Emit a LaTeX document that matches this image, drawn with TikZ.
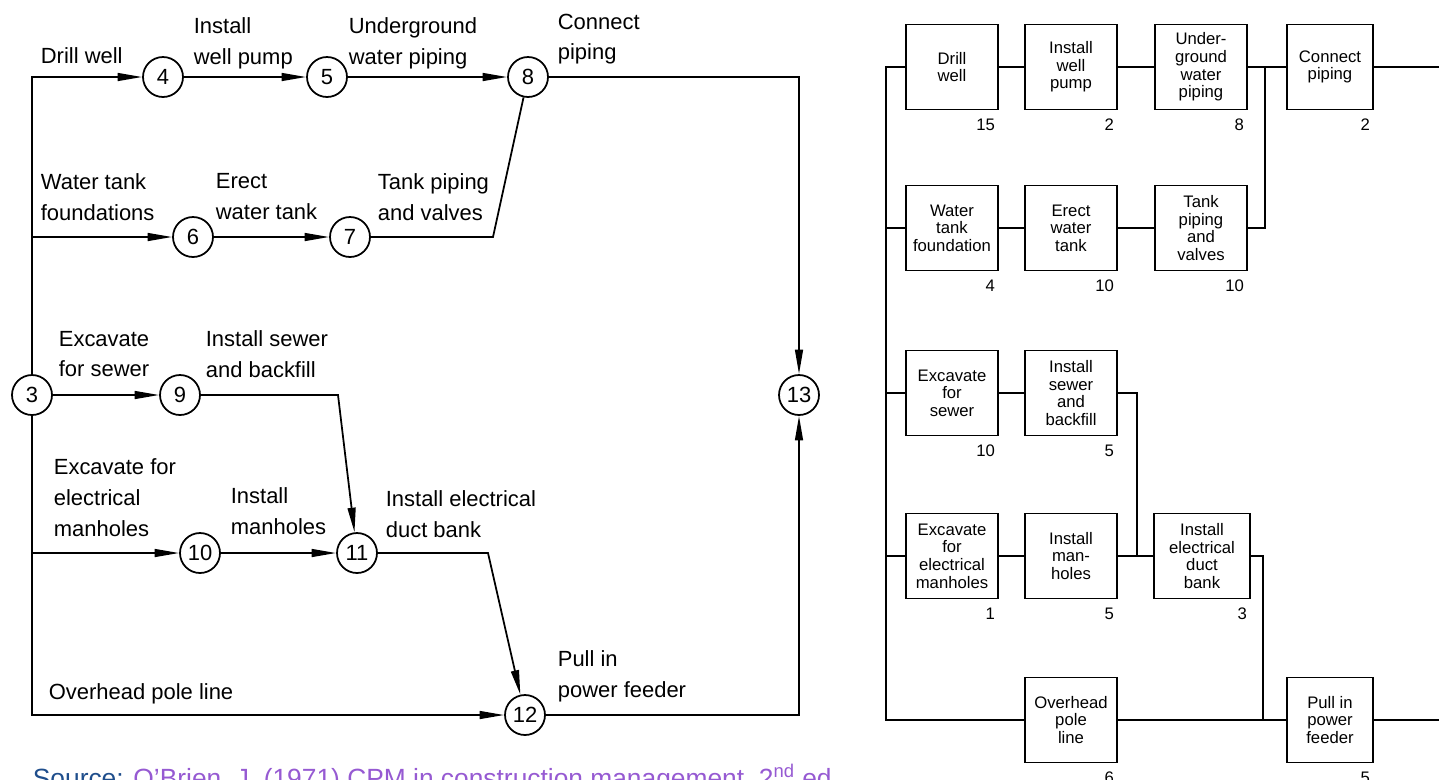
\documentclass[tikz,border=0pt]{standalone}
\usepackage{fontspec}
\setmainfont{Liberation Sans}
\usetikzlibrary{arrows.meta}
\definecolor{srcblue}{RGB}{31,78,140}
\definecolor{srcviolet}{RGB}{150,90,210}

\begin{document}
\begin{tikzpicture}[x=.02cm,y=-.02cm,line width=1pt,
  ev/.style={draw,circle,minimum size=.8cm,inner sep=0pt,font=\fontsize{12.5}{15}\selectfont},
  act/.style={anchor=north west,inner sep=0pt,align=left,font=\fontsize{12.5}{17.5}\selectfont},
  arr/.style={-{Triangle[length=14pt,width=4.5pt]}},
  box/.style={draw,minimum width=1.84cm,minimum height=1.7cm,inner sep=1pt,align=center,font=\fontsize{9.5}{10}\selectfont},
  dur/.style={anchor=north east,inner sep=0pt,xshift=-.06cm,yshift=-.16cm,font=\fontsize{9.5}{11}\selectfont}]
  \useasboundingbox (0,0) rectangle (1439,779);

  \node[ev] (e3) at (32,395) {3};
  \node[ev] (e4) at (163,77) {4};
  \node[ev] (e5) at (327,77) {5};
  \node[ev] (e8) at (528,77) {8};
  \node[ev] (e6) at (193,237) {6};
  \node[ev] (e7) at (350,237) {7};
  \node[ev] (e9) at (180,395) {9};
  \node[ev] (e10) at (200,553) {10};
  \node[ev] (e11) at (357,553) {11};
  \node[ev] (e12) at (525,715) {12};
  \node[ev] (e13) at (799,395) {13};
  \coordinate (k7) at (493,237);
  \coordinate (k9) at (338,395);
  \coordinate (k11) at (488,553);

  \draw[arr] (e3) |- (e4);
  \draw[arr] (e4) -- (e5);
  \draw[arr] (e5) -- (e8);
  \draw[arr] (e3) |- (e6);
  \draw[arr] (e6) -- (e7);
  \draw (e7) -- (k7) -- (e8);
  \draw[arr] (e3) -- (e9);
  \draw[arr] (e9) -- (k9) -- (e11);
  \draw[arr] (e3) |- (e10);
  \draw[arr] (e10) -- (e11);
  \draw[arr] (e11) -- (k11) -- (e12);
  \draw[arr] (e3) |- (e12);
  \draw[arr] (e8) -| (e13);
  \draw[arr] (e12) -| (e13);

  \node[act] (l4) at (40,47) {Drill well};
  \node[act] (l5) at (193,17) {Install\\well pump};
  \node[act] (l8) at (348,17) {Underground\\water piping};
  \node[act] (l13) at (557,13) {Connect\\piping};
  \node[act] (l6) at (40,173) {Water tank\\foundations};
  \node[act] (l7) at (215,173) {Erect\\water tank};
  \node[act] (l78) at (377,173) {Tank piping\\and valves};
  \node[act] (l9) at (58,330) {Excavate\\for sewer};
  \node[act] (l911) at (205,330) {Install sewer\\and backfill};
  \node[act] (l10) at (53,458) {Excavate for\\electrical\\manholes};
  \node[act] (l11) at (230,487) {Install\\manholes};
  \node[act] (l12) at (385,490) {Install electrical\\duct bank};
  \node[act] (l312) at (48,683) {Overhead pole line};
  \node[act] (l1213) at (557,650) {Pull in\\power feeder};

  \node[box] (b1) at (952,67) {Drill\\well};
  \node[box] (b2) at (1071,67) {Install\\well\\pump};
  \node[box] (b3) at (1201,67) {Under-\\ground\\water\\piping};
  \node[box,minimum width=1.72cm] (b4) at (1330,67) {Connect\\piping};
  \node[box] (b5) at (952,228) {Water\\tank\\foundation};
  \node[box] (b6) at (1071,228) {Erect\\water\\tank};
  \node[box] (b7) at (1201,228) {Tank\\piping\\and\\valves};
  \node[box] (b8) at (952,393) {Excavate\\for\\sewer};
  \node[box] (b9) at (1071,393) {Install\\sewer\\and\\backfill};
  \node[box] (b10) at (952,556) {Excavate\\for\\electrical\\manholes};
  \node[box] (b11) at (1071,556) {Install\\man-\\holes};
  \node[box,minimum width=1.92cm] (b12) at (1202,556) {Install\\electrical\\duct\\bank};
  \node[box] (b13) at (1071,720) {Overhead\\pole\\line};
  \node[box,minimum width=1.72cm] (b14) at (1330,720) {Pull in\\power\\feeder};
  \foreach \b/\d in {b1/15,b2/2,b3/8,b4/2,b5/4,b6/10,b7/10,b8/10,b9/5,b10/1,b11/5,b12/3,b13/6,b14/5}
    \node[dur] (d\b) at (\b.south east) {\d};

  \coordinate (tk) at (886,67);
  \coordinate (j1) at (1265,67);
  \coordinate (j2) at (1137,556);
  \coordinate (j3) at (1263,720);
  \coordinate (o1) at (1439,67);
  \coordinate (o2) at (1439,720);
  \draw (b13) -| (tk) -- (b1);
  \foreach \b in {b5,b8,b10}
    \draw (tk |- \b) -- (\b);
  \draw (b1) -- (b2);
  \draw (b2) -- (b3);
  \draw (b3) -- (b4);
  \draw (b4) -- (o1);
  \draw (b5) -- (b6);
  \draw (b6) -- (b7);
  \draw (b7) -| (j1);
  \draw (b8) -- (b9);
  \draw (b9) -| (j2);
  \draw (b10) -- (b11);
  \draw (b11) -- (b12);
  \draw (b12) -| (j3);
  \draw (b13) -- (b14);
  \draw (b14) -- (o2);

  \node[anchor=base west,inner sep=0pt,font=\fontsize{15}{18}\selectfont] (src) at (32,787)
    {\textcolor{srcblue}{Source:} \textcolor{srcviolet}{O’Brien, J. (1971) CPM in construction management, 2\textsuperscript{nd} ed.}};
\end{tikzpicture}
\end{document}
